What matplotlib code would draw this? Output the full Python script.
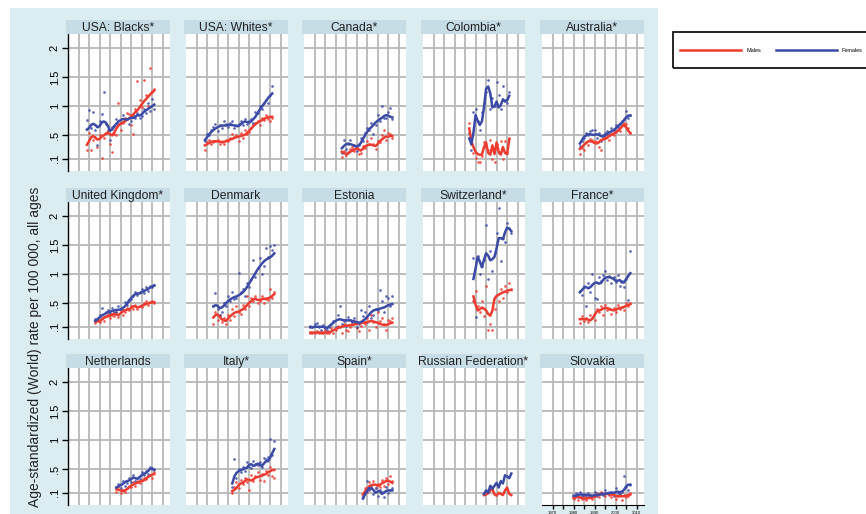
import numpy as np
import matplotlib.pyplot as plt
from matplotlib.patches import Rectangle
from matplotlib.lines import Line2D

plt.rcParams['font.family'] = ['Liberation Sans', 'DejaVu Sans']

RED = '#ee3b30'
BLUE = '#3a4aa6'
PANEL_BG = '#dcedf2'
STRIP = '#c6dde6'
GRID = '#b7b7b7'

# --- rates per 100 000 (males / females), smoothed line + yearly points ---
titles = ['USA: Blacks*', 'USA: Whites*', 'Canada*', 'Colombia*', 'Australia*',
          'United Kingdom*', 'Denmark', 'Estonia', 'Switzerland*', 'France*',
          'Netherlands', 'Italy*', 'Spain*', 'Russian Federation*', 'Slovakia']
first_year = [1974, 1974, 1983, 1987, 1983,
              1978, 1978, 1968, 1989, 1983,
              1988, 1987, 1993, 1994, 1980]

blk_f = [.60, .63, .68, .70, .68, .64, .66, .72, .74, .72, .66, .58, .60, .66, .70, .74, .76,
         .78, .78, .77, .79, .80, .80, .82, .85, .84, .86, .90, .93, .95, .98, 1.00, 1.03]
blk_m = [.34, .40, .47, .49, .46, .43, .44, .48, .50, .53, .55, .52, .50, .55, .62, .67, .70,
         .72, .74, .77, .79, .82, .86, .90, .93, .98, 1.03, 1.08, 1.12, 1.16, 1.20, 1.24, 1.27]
blk_f_pts = [.76, .93, .62, .90, .60, .34, .74, .87, 1.25, .70, .60, .43, .64, .66, .78, .70, .72,
             .85, .76, .79, .70, .75, .85, .80, .88, .80, .84, .95, .88, 1.05, .92, 1.13, .95]
blk_m_pts = [.25, .55, .25, .42, .48, .30, .50, .12, .45, .55, .58, .35, .22, .52, .50, 1.05, .60,
             .72, .80, .88, .86, .68, .52, .95, 1.43, 1.10, .98, 1.45, 1.20, 1.00, 1.65, 1.25, 1.30]

wht_f = [.42, .47, .52, .56, .59, .62, .64, .66, .67, .67, .67, .68, .68, .68, .67, .66, .66,
         .69, .72, .74, .73, .72, .74, .78, .82, .88, .94, .99, 1.04, 1.09, 1.14, 1.18, 1.22]
wht_m = [.33, .35, .37, .39, .40, .40, .40, .39, .39, .39, .40, .41, .43, .44, .46, .47, .48,
         .49, .50, .51, .54, .58, .62, .66, .69, .72, .74, .76, .78, .80, .81, .82, .82]
wht_f_pts = [.40, .52, .50, .60, .65, .70, .57, .68, .62, .75, .70, .65, .72, .74, .62, .68, .70,
             .75, .68, .78, .70, .74, .79, .72, .90, .88, 1.0, .95, 1.06, 1.10, 1.05, 1.20, 1.35]
wht_m_pts = [.25, .38, .42, .35, .38, .40, .42, .36, .38, .35, .42, .40, .45, .52, .48, .50, .40,
             .55, .46, .60, .52, .56, .62, .70, .72, .75, .68, .80, .76, .85, .78, .75, .80]

can_f = [.28, .32, .35, .36, .35, .34, .32, .31, .33, .37, .44, .50, .56, .61, .64, .68, .72,
         .75, .78, .80, .83, .85, .84, .82, .81]
can_m = [.22, .20, .18, .19, .22, .24, .26, .28, .26, .24, .27, .31, .33, .34, .34, .33, .32,
         .35, .40, .43, .46, .48, .48, .49, .49]
can_f_pts = [.20, .43, .27, .35, .43, .25, .33, .23, .34, .45, .40, .55, .62, .60, .72, .52, .68,
             .85, .75, 1.00, .80, .80, .90, .97, .78]
can_m_pts = [.13, .24, .16, .22, .26, .30, .24, .30, .18, .20, .32, .28, .40, .35, .45, .36, .27,
             .40, .38, .50, .60, .42, .55, .52, .45]

col_f = [.45, .35, .55, .85, .75, .68, .74, .98, 1.30, 1.34, 1.22, .98, 1.00, 1.08, .98, 1.02,
         1.12, 1.08, 1.10, 1.18]
col_m = [.62, .40, .30, .22, .18, .17, .17, .30, .38, .20, .17, .33, .18, .38, .22, .17, .30,
         .20, .18, .43]
col_f_pts = [.55, .25, .90, .95, .75, .60, .90, 1.05, 1.25, 1.45, .95, 1.15, 1.00, 1.42, 1.20,
             .96, 1.35, 1.10, 1.05, 1.25]
col_m_pts = [.72, .35, .20, .12, .05, .05, .15, .38, .30, .25, .42, .10, .05, .35, .20, .40, .10,
             .40, .20, .45]

aus_f = [.36, .42, .48, .50, .52, .52, .51, .51, .52, .51, .49, .48, .50, .53, .55, .57, .59,
         .62, .65, .69, .72, .76, .81, .84, .84]
aus_m = [.27, .30, .34, .37, .40, .40, .39, .37, .36, .38, .42, .43, .44, .46, .49, .51, .53,
         .55, .58, .61, .65, .68, .64, .58, .54]
aus_f_pts = [.32, .40, .45, .55, .50, .58, .60, .60, .45, .55, .40, .50, .55, .58, .50, .62, .60,
             .68, .64, .70, .75, .78, .92, .80, .85]
aus_m_pts = [.18, .28, .25, .38, .33, .44, .42, .40, .38, .30, .25, .45, .48, .50, .42, .52, .50,
             .56, .60, .58, .68, .72, .70, .62, .55]

uk_f = [.20, .23, .26, .29, .31, .33, .35, .36, .37, .38, .39, .39, .40, .42, .45, .49, .55, .59,
        .63, .66, .67, .67, .69, .71, .73, .75, .77, .79, .81]
uk_m = [.19, .19, .20, .22, .25, .27, .28, .29, .31, .32, .31, .30, .33, .36, .38, .39, .40, .42,
        .45, .45, .43, .44, .46, .47, .49, .50, .51, .52, .52]
uk_f_pts = [.24, .22, .30, .42, .26, .35, .38, .33, .42, .36, .35, .45, .40, .38, .52, .48, .55,
            .58, .62, .70, .65, .70, .75, .68, .78, .72, .80, .78, .82]
uk_m_pts = [.16, .22, .18, .25, .20, .28, .32, .25, .30, .28, .35, .26, .38, .30, .36, .42, .38,
            .45, .40, .48, .40, .46, .44, .50, .55, .48, .52, .54, .50]

dk_f = [.45, .47, .46, .42, .43, .46, .50, .54, .57, .59, .61, .62, .64, .66, .69, .73, .78, .84,
        .90, .96, 1.02, 1.08, 1.13, 1.18, 1.22, 1.25, 1.27, 1.29, 1.32, 1.36]
dk_m = [.26, .30, .31, .27, .23, .21, .20, .24, .28, .31, .34, .35, .36, .38, .40, .43, .47, .51,
        .54, .57, .58, .56, .56, .57, .58, .58, .59, .60, .63, .66]
dk_f_pts = [.45, .68, .40, .30, .36, .50, .45, .62, .55, .70, .58, .60, 1.02, .70, .75, .62, .85,
            .78, .92, 1.25, .95, 1.10, 1.28, 1.00, 1.15, 1.45, 1.30, 1.48, 1.42, 1.50]
dk_m_pts = [.15, .35, .22, .30, .18, .25, .15, .30, .22, .40, .28, .45, .35, .32, .48, .40, .62,
            .45, .60, .55, .62, .50, .55, .62, .50, .58, .56, .75, .60, .70]

est_f = [.09, .09, .10, .10, .10, .10, .10, .09, .08, .11, .14, .17, .20, .22, .23, .22, .21, .21,
         .21, .21, .20, .19, .18, .17, .18, .20, .23, .27, .31, .35, .38, .39, .40, .41, .42, .43,
         .45, .47, .48, .49]
est_m = [.00, .00, .00, .00, .00, .00, .00, .00, .00, .01, .02, .04, .06, .08, .09, .10, .11, .12,
         .12, .13, .13, .14, .15, .16, .16, .17, .17, .18, .19, .20, .19, .18, .17, .15, .14, .13,
         .13, .14, .16, .17]
est_f_pts = [.12, .10, .15, .16, .10, .05, .13, .08, .05, .10, .15, .20, .10, .30, .46, .15, .20,
             .12, .26, .22, .18, .25, .10, .15, .39, .28, .35, .18, .45, .25, .30, .40, .38, .73,
             .55, .35, .63, .60, .45, .63]
est_m_pts = [.00, .00, .00, .02, .00, .00, .00, .05, .00, .00, .08, .00, .05, .12, .10, .00, .15,
             .05, .02, .10, .18, .20, .08, .02, .12, .22, .15, .25, .05, .30, .18, .10, .35, .20,
             .25, .15, .05, .22, .20, .25]

che_f = [.92, 1.10, 1.30, 1.22, 1.12, 1.25, 1.36, 1.32, 1.24, 1.26, 1.30, 1.45, 1.62, 1.62, 1.60,
         1.72, 1.80, 1.78, 1.74]
che_m = [.62, .48, .38, .40, .43, .41, .38, .32, .29, .38, .58, .63, .65, .67, .69, .70, .72, .73,
         .73]
che_f_pts = [1.28, .26, 1.32, 1.00, 1.15, 1.25, 1.84, .92, 1.40, 1.05, 1.36, 1.70, 2.13, 1.22,
             1.63, 1.55, 1.88, 1.80, 1.70]
che_m_pts = [.55, .72, .45, .35, .55, .28, .80, .05, .15, .05, .40, .65, .55, .75, .60, .80, .70,
             .85, .75]

fra_f = [.69, .73, .77, .78, .76, .78, .82, .85, .86, .84, .85, .90, .94, .95, .95, .94, .92, .89,
         .89, .90, .86, .86, .92, .97, 1.02]
fra_m = [.23, .23, .23, .23, .22, .21, .24, .30, .36, .38, .39, .41, .42, .42, .41, .39, .38, .39,
         .41, .42, .43, .44, .46, .47, .49]
fra_f_pts = [.72, .65, .80, .45, .85, .70, 1.00, .60, .58, .95, .88, .98, 1.05, .90, .97, .85, .95,
             .86, .98, .80, .88, .78, .92, .56, 1.40]
fra_m_pts = [.17, .28, .20, .25, .18, .30, .25, .22, .40, .35, .45, .30, .48, .38, .40, .32, .42,
             .35, .48, .40, .44, .38, .50, .45, .50]

nld_f = [.19, .21, .23, .25, .28, .30, .31, .33, .36, .35, .34, .37, .40, .42, .44, .47, .51, .51,
         .49]
nld_m = [.16, .15, .14, .13, .14, .16, .19, .22, .24, .26, .27, .29, .30, .31, .34, .37, .39, .41,
         .42]
nld_f_pts = [.20, .25, .18, .30, .22, .26, .35, .28, .40, .30, .36, .33, .45, .40, .48, .42, .55,
             .52, .50]
nld_m_pts = [.12, .20, .10, .15, .12, .18, .22, .20, .28, .22, .30, .26, .32, .36, .34, .38, .40,
             .35, .46]

ita_f = [.26, .38, .44, .47, .49, .50, .52, .53, .58, .59, .56, .57, .60, .59, .56, .60, .64, .64,
         .70, .78, .85]
ita_m = [.13, .15, .18, .23, .26, .27, .30, .33, .32, .31, .33, .36, .37, .38, .39, .41, .42, .45,
         .47, .49, .49]
ita_f_pts = [.20, .68, .35, .50, .45, .55, .48, .62, .55, .52, .65, .60, .58, .62, .55, .70, .68,
             .72, 1.02, .75, .98]
ita_m_pts = [.10, .20, .28, .18, .32, .25, .35, .28, .15, .40, .30, .38, .45, .32, .42, .30, .48,
             .40, .55, .38, .35]

esp_f = [.00, .07, .13, .18, .17, .15, .10, .12, .13, .08, .10, .13, .14, .14, .14]
esp_m = [.07, .12, .17, .21, .23, .24, .24, .22, .23, .26, .28, .30, .31, .29, .27]
esp_f_pts = [.02, .10, .30, .15, .22, .08, .18, .05, .15, .12, .02, .20, .10, .15, .18]
esp_m_pts = [.05, .18, .12, .28, .20, .30, .18, .25, .20, .32, .22, .35, .25, .38, .30]

rus_f = [.08, .14, .10, .22, .17, .22, .27, .19, .30, .26, .40, .38, .35, .43]
rus_m = [.06, .07, .09, .14, .16, .07, .05, .10, .08, .06, .14, .19, .08, .06]
rus_f_pts = []
rus_m_pts = []

svk_f = [.05, .05, .06, .07, .07, .06, .06, .06, .05, .05, .06, .06, .07, .07, .08, .08, .09, .10,
         .10, .10, .11, .12, .11, .12, .15, .21, .24, .23]
svk_m = [.01, .02, .03, .02, .01, .00, .00, .01, .01, .02, .03, .05, .07, .08, .08, .08, .08, .08,
         .07, .06, .05, .04, .04, .04, .04, .05, .06, .07]
svk_f_pts = [.05, .10, .03, .12, .05, .08, .02, .10, .06, .04, .12, .05, .08, .10, .06, .15, .10,
             .08, .12, .05, .18, .10, .08, .12, .38, .20, .15, .25]
svk_m_pts = [.00, .05, -.02, .03, .00, .04, -.02, .02, .06, -.01, .05, .10, .02, .12, .08, .05,
             .10, .06, .03, .10, .00, .05, .08, -.02, .06, .02, .05, .10]

male_lines = [blk_m, wht_m, can_m, col_m, aus_m, uk_m, dk_m, est_m, che_m, fra_m,
              nld_m, ita_m, esp_m, rus_m, svk_m]
female_lines = [blk_f, wht_f, can_f, col_f, aus_f, uk_f, dk_f, est_f, che_f, fra_f,
                nld_f, ita_f, esp_f, rus_f, svk_f]
male_points = [blk_m_pts, wht_m_pts, can_m_pts, col_m_pts, aus_m_pts, uk_m_pts, dk_m_pts,
               est_m_pts, che_m_pts, fra_m_pts, nld_m_pts, ita_m_pts, esp_m_pts, rus_m_pts,
               svk_m_pts]
female_points = [blk_f_pts, wht_f_pts, can_f_pts, col_f_pts, aus_f_pts, uk_f_pts, dk_f_pts,
                 est_f_pts, che_f_pts, fra_f_pts, nld_f_pts, ita_f_pts, esp_f_pts, rus_f_pts,
                 svk_f_pts]

y_ticks = [.1, .5, 1, 1.5, 2]
y_ticklabels = ['.1', '.5', '1', '1.5', '2']

W, H = 866, 514
fig = plt.figure(figsize=(W / 100, H / 100), dpi=100)

# light blue backdrop behind the panel grid
fig.patches.append(Rectangle((10 / W, 0), 648 / W, 506 / H, transform=fig.transFigure,
                             facecolor=PANEL_BG, edgecolor='none', zorder=-10))

col_left = [68, 186, 304, 423, 542]
row_top = [34, 202, 368]
pw, ph, strip_h = 102, 137, 14


def years_for(start, vals):
    return np.arange(start, start + len(vals))


for i, title in enumerate(titles):
    r, c = divmod(i, 5)
    left, top = col_left[c], row_top[r]
    ax = fig.add_axes([left / W, 1 - (top + ph) / H, pw / W, ph / H])
    ax.set_facecolor('white')
    ax.set_xlim(1965, 2013.5)
    ax.set_ylim(-0.11, 2.24)
    ax.set_xticks(np.arange(1970, 2011, 5))
    ax.set_yticks(y_ticks)
    ax.grid(True, color=GRID, lw=1.3, zorder=0)
    ax.set_axisbelow(True)
    for sp in ax.spines.values():
        sp.set_visible(False)

    start = first_year[i]
    for pts, col in ((male_points[i], RED), (female_points[i], BLUE)):
        if pts:
            ax.plot(years_for(start, pts), pts, 'o', color=col, ms=1.9, alpha=0.85,
                    mec='none', zorder=2)
    ax.plot(years_for(start, male_lines[i]), male_lines[i], color=RED, lw=1.8, zorder=3)
    ax.plot(years_for(start, female_lines[i]), female_lines[i], color=BLUE, lw=1.8, zorder=3)

    if c == 0:
        ax.spines['left'].set_visible(True)
        ax.spines['left'].set_color('black')
        ax.spines['left'].set_linewidth(1.0)
        ax.set_yticklabels(y_ticklabels, rotation=90, va='center', fontsize=8)
        ax.tick_params(axis='y', length=4, width=1, pad=2)
    else:
        ax.tick_params(axis='y', length=0, labelleft=False)

    if i == len(titles) - 1:
        ax.spines['bottom'].set_visible(True)
        ax.spines['bottom'].set_color('black')
        ax.set_xticklabels(['1970', '', '1980', '', '1990', '', '2000', '', '2010'])
        ax.tick_params(axis='x', length=3, width=1, labelsize=3, pad=1)
    else:
        ax.tick_params(axis='x', length=0, labelbottom=False)

    # title strip
    sax = fig.add_axes([(left - 2) / W, 1 - top / H, (pw + 2) / W, strip_h / H])
    sax.set_facecolor(STRIP)
    sax.set_xticks([])
    sax.set_yticks([])
    for sp in sax.spines.values():
        sp.set_visible(False)
    sax.text(0.5, 0.45, title, ha='center', va='center', fontsize=8.7, color='#222222',
             transform=sax.transAxes)

fig.text(35 / W, 1 - 347 / H, 'Age-standardized (World) rate per 100 000, all ages',
         rotation=90, ha='center', va='center', fontsize=10, color='#222222')

# legend box runs past the right edge of the figure
fig.patches.append(Rectangle((673 / W, 1 - 68 / H), 220 / W, 36 / H, transform=fig.transFigure,
                             fill=False, edgecolor='black', lw=1.2))
handles = [Line2D([], [], color=RED, lw=1.8, label='Males'),
           Line2D([], [], color=BLUE, lw=1.8, label='Females')]
fig.legend(handles=handles, loc='center left', ncol=2, bbox_to_anchor=(680 / W, 1 - 50 / H),
           fontsize=4, handlelength=11, handletextpad=0.9, columnspacing=2.7,
           frameon=False, borderaxespad=0, borderpad=0)

fig.savefig('out.png', dpi=100)
